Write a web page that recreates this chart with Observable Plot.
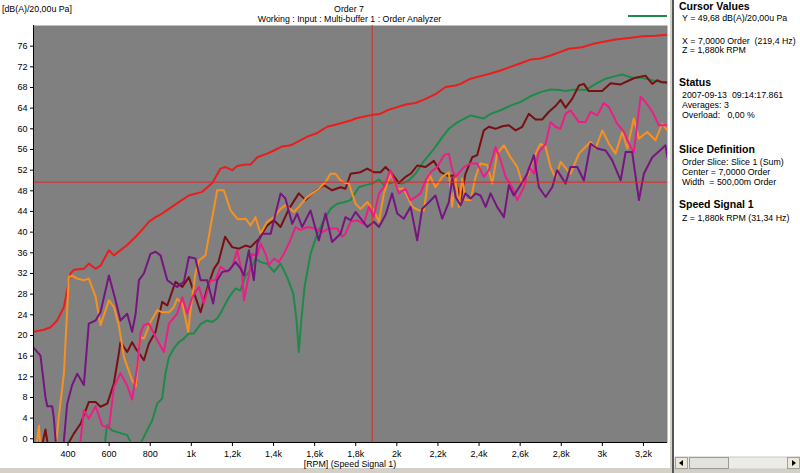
<!DOCTYPE html>
<html><head><meta charset="utf-8">
<script src="https://cdn.jsdelivr.net/npm/d3@7"></script>
<script src="https://cdn.jsdelivr.net/npm/@observablehq/plot@0.6"></script>
<style>
html,body{margin:0;padding:0;background:#fff;}
#wrap{position:relative;width:800px;height:473px;overflow:hidden;background:#fff;font-family:"Liberation Sans",Arial,sans-serif;}
#wrap svg{position:absolute;left:0;top:0;}
#wrap text{white-space:pre;}
</style></head><body><div id="wrap"></div>
<script>
// ---- data ----
const yTicks = [0,4,8,12,16,20,24,28,32,36,40,44,48,52,56,60,64,68,72,76];
const xTicks = [400,600,800,1000,1200,1400,1600,1800,2000,2200,2400,2600,2800,3000,3200];
const xTickLabels = ["400","600","800","1k","1,2k","1,4k","1,6k","1,8k","2k","2,2k","2,4k","2,6k","2,8k","3k","3,2k"];
const cursorRpm = 1880;
const cursorDb = 49.68;

const redRpm = [233,282,315,347,380,412,428,477,501,534,558,599,623,688,729,761,793,826,858,891,939,988,1053,1102,1142,1166,1199,1223,1264,1288,1321,1369,1402,1442,1483,1523,1564,1613,1661,1710,1775,1799,1831,1880,1913,1961,1994,2042,2091,2140,2188,2237,2286,2310,2359,2407,2456,2505,2553,2602,2650,2699,2748,2796,2837,2902,2951,3000,3064,3129,3194,3259,3316];
const redDb = [20.7,21.1,21.6,22.9,25.5,32.0,32.7,32.9,33.9,32.9,33.5,36.5,35.5,37.5,39.1,40.5,42.0,42.9,43.6,44.5,45.8,47.1,47.8,49.5,52.3,52.6,52.0,52.8,53.1,53.1,54.5,55.2,55.8,56.6,56.8,57.6,58.5,59.2,60.4,60.9,61.6,62.0,62.3,62.7,62.8,63.7,64.1,64.7,65.0,65.8,66.7,68.1,68.4,68.7,69.7,70.2,70.7,71.3,72.0,72.7,73.4,73.6,74.2,74.9,75.5,75.8,76.4,76.8,77.3,77.6,77.9,78.0,78.2];

const greenRpm = [560,578,590,615,655,688,712,735,753,777,810,834,858,874,891,915,939,964,988,1012,1045,1077,1102,1126,1150,1183,1215,1239,1264,1288,1312,1337,1369,1402,1434,1466,1496,1512,1523,1535,1551,1580,1613,1645,1677,1710,1742,1775,1815,1848,1880,1913,1937,1961,1994,2026,2058,2091,2123,2156,2188,2221,2253,2286,2310,2359,2391,2423,2456,2505,2553,2602,2650,2699,2748,2796,2821,2870,2918,2967,3016,3064,3097,3145,3194,3243,3291,3316];
const greenDb = [-3,-1.3,2.6,1.6,1.1,0.7,-1.3,-3,-0.9,1.0,3.6,6.8,7.8,12.6,15.8,17.5,18.7,19.4,20.4,20.4,22.2,22.9,22.6,23.3,24.9,27.4,29.1,28.7,31.6,32.6,34.9,34.2,33.9,32.3,33.9,31.3,28.1,22.9,16.8,22.9,29.4,35.8,39.7,42.3,44.5,45.5,45.8,46.2,48.7,49.1,49.4,50.2,49.1,49.4,49.7,49.4,50.0,51.3,53.3,54.9,56.5,58.4,60.0,61.0,61.6,62.6,62.3,62.0,62.9,63.6,64.5,65.2,66.3,67.1,67.6,67.5,67.3,67.6,67.5,68.7,69.7,70.2,70.5,69.9,69.9,69.4,69.0,68.8];

const maroonRpm = [270,290,305,380,396,428,461,501,534,558,591,623,647,655,688,712,729,769,793,826,858,883,923,956,988,1012,1045,1077,1110,1132,1164,1199,1232,1264,1288,1329,1369,1402,1434,1475,1523,1556,1596,1645,1685,1726,1750,1775,1823,1856,1888,1921,1945,1977,2010,2042,2067,2099,2140,2180,2213,2253,2280,2310,2334,2367,2391,2423,2448,2480,2513,2545,2578,2610,2642,2675,2707,2740,2772,2797,2821,2853,2886,2910,2934,2999,3040,3089,3137,3162,3210,3243,3267,3291,3316];
const maroonDb = [-2,1.8,-2,-3,-1.3,1.0,2.9,7.1,7.1,6.2,6.8,10.7,16.5,18.7,16.8,18.7,17.5,15.2,18.4,20.7,26.5,25.8,30.4,29.4,31.3,28.4,24.5,29.1,32.9,34.2,39.1,37.1,36.8,37.4,37.1,38.7,41.3,42.3,41.0,44.5,47.5,46.2,47.8,49.1,48.1,48.7,48.4,51.3,51.6,52.3,51.6,51.6,52.6,51.3,49.5,50.7,51.3,52.9,52.6,53.8,51.6,50.8,51.0,46.2,51.3,54.5,54.9,59.7,60.4,60.0,60.5,60.7,59.7,60.4,62.9,61.8,61.8,63.3,64.4,65.6,64.1,65.8,68.4,68.7,67.3,67.3,68.8,68.6,69.5,69.9,70.3,68.7,69.4,69.0,69.0];

const pinkRpm = [440,458,477,501,534,566,599,623,655,688,712,737,753,769,793,826,866,891,931,956,980,1004,1037,1061,1094,1118,1142,1175,1199,1223,1247,1256,1280,1296,1321,1337,1361,1377,1402,1426,1450,1475,1507,1531,1564,1604,1637,1669,1710,1734,1750,1775,1807,1839,1864,1888,1913,1937,1969,2010,2042,2067,2091,2115,2140,2164,2197,2229,2253,2270,2286,2326,2359,2391,2423,2448,2480,2505,2529,2561,2586,2618,2642,2667,2691,2724,2748,2772,2796,2821,2845,2886,2918,2943,2975,3007,3032,3072,3105,3137,3153,3186,3210,3243,3275,3316];
const pinkDb = [-3,-1.3,5.5,3.9,6.3,2.6,2.0,10.0,12.7,10.3,7.6,14.0,20.5,22.0,22.3,19.7,16.8,22.3,24.2,27.4,24.2,27.4,29.4,26.2,30.7,30.7,33.3,32.3,33.3,36.5,32.0,26.8,31.6,35.8,35.5,37.8,35.8,33.6,34.9,34.2,35.8,37.8,41.0,40.4,41.0,40.7,40.0,40.7,40.7,39.1,39.7,42.0,42.3,41.6,44.9,43.0,47.5,48.7,52.0,47.5,48.4,46.2,46.8,47.5,50.0,51.6,52.6,54.9,55.2,52.0,50.7,52.6,53.3,53.3,50.7,52.0,56.5,53.9,50.7,48.7,46.2,48.7,52.6,51.3,55.5,57.1,61.3,60.4,60.0,62.9,63.6,61.3,61.3,63.3,62.6,65.0,64.2,61.0,59.4,56.5,55.5,66.2,65.2,63.3,60.7,60.7];

const orangeRpm = [245,258,266,340,355,380,404,420,445,477,501,534,558,599,623,647,672,712,730,750,769,801,834,858,891,915,931,956,985,996,1020,1037,1069,1093,1126,1158,1191,1223,1239,1264,1288,1312,1337,1369,1402,1434,1458,1499,1523,1556,1588,1620,1653,1677,1702,1726,1750,1767,1799,1823,1856,1888,1913,1937,1969,2002,2034,2075,2107,2132,2156,2188,2221,2253,2269,2286,2302,2318,2334,2359,2383,2407,2440,2464,2488,2521,2553,2586,2610,2634,2667,2699,2724,2748,2772,2797,2845,2886,2918,2943,2967,3000,3032,3064,3097,3121,3153,3178,3218,3259,3291,3316];
const orangeDb = [-2,2.5,-1.5,-2,4.2,12.6,31.3,31.6,31.0,30.7,31.0,27.5,22.0,26.8,25.5,22.0,15.8,11.3,10.2,19.7,19.4,22.6,24.9,24.5,24.5,25.5,27.1,26.2,20.7,24.9,32.0,34.5,35.5,41.0,48.1,48.1,44.2,42.6,42.5,42.6,41.3,42.9,39.7,42.0,42.9,44.5,45.2,43.9,44.9,46.5,47.5,48.4,49.7,51.3,51.3,50.0,49.5,49.4,45.5,44.5,45.8,44.2,42.0,47.5,51.3,48.4,48.4,44.9,44.2,44.2,51.3,48.7,50.7,51.6,44.9,50.7,44.9,50.4,46.2,46.2,50.7,53.3,53.0,49.4,55.2,56.8,54.5,52.6,49.4,50.7,54.5,57.1,56.5,52.6,50.5,53.6,51.3,55.2,56.5,57.5,56.2,59.7,57.1,55.2,59.4,56.2,62.0,58.1,59.4,57.8,61.0,59.7];

const purpleRpm = [233,266,290,299,323,331,345,372,380,396,420,445,477,501,534,558,599,631,655,688,712,729,745,769,801,826,850,883,907,931,964,988,1020,1045,1077,1106,1126,1150,1183,1215,1239,1256,1280,1304,1321,1345,1386,1434,1458,1491,1515,1539,1580,1620,1653,1685,1726,1750,1775,1799,1831,1856,1888,1913,1945,1977,2002,2034,2067,2099,2123,2156,2188,2221,2253,2270,2286,2310,2334,2359,2383,2407,2432,2456,2488,2521,2545,2569,2602,2634,2667,2691,2724,2756,2780,2821,2845,2878,2910,2943,2975,3016,3048,3089,3113,3145,3178,3202,3243,3291,3307,3316];
const purpleDb = [17.6,16.1,8.1,6.3,6.3,4.0,-3,-3,-0.3,6.8,10.4,12.6,10.4,22.3,22.9,24.5,31.6,26.8,22.9,24.2,20.7,24.2,30.7,32.0,35.8,36.2,35.5,30.7,30.0,29.4,30.4,35.2,34.9,30.7,30.7,26.2,30.7,32.3,32.6,34.2,33.0,31.6,36.5,30.7,37.8,39.7,39.7,47.5,46.5,41.6,43.6,41.0,44.2,38.4,43.6,38.1,39.7,42.9,42.3,43.9,42.3,41.0,42.0,41.0,43.3,47.5,43.6,42.6,44.9,38.4,44.5,45.8,47.1,42.6,45.8,50.5,46.8,45.2,47.5,46.5,47.5,47.1,44.9,47.5,44.9,42.9,49.1,47.1,49.1,51.3,54.9,48.7,46.8,48.7,52.0,49.4,52.6,52.6,50.0,57.1,56.2,55.8,53.9,50.0,55.5,55.5,46.2,51.3,54.5,56.2,56.8,54.5];

const seriesNames = ["red","green","maroon","orange","pink","purple"];
const seriesColors = ["#ec1c1c","#1e8a4a","#7a0f12","#f7901e","#ec1e86","#771480"];
const seriesRpm = [redRpm, greenRpm, maroonRpm, orangeRpm, pinkRpm, purpleRpm];
const seriesDb = [redDb, greenDb, maroonDb, orangeDb, pinkDb, purpleDb];

// ---- chart ----
const xDomain = [232, 3317];
const yDomain = [-0.72, 80];
const lineMarks = seriesNames.map((name, k) => {
  const rows = seriesRpm[k].map((r, i) => ({rpm: r, db: seriesDb[k][i]}));
  return Plot.line(rows, {x: "rpm", y: "db", stroke: seriesColors[k], strokeWidth: 2, clip: true, curve: "linear"});
});

const chart = Plot.plot({
  width: 668, height: 473,
  marginLeft: 33, marginRight: 1, marginTop: 25, marginBottom: 31,
  style: {background: "transparent", fontFamily: "'Liberation Sans', Arial, sans-serif", fontSize: "9px", color: "#000", overflow: "visible"},
  x: {domain: xDomain, ticks: xTicks, tickFormat: d => xTickLabels[xTicks.indexOf(d)], tickSize: 4, tickPadding: 4, label: null},
  y: {domain: yDomain, ticks: yTicks, tickSize: 3, tickPadding: 3, label: null},
  marks: [
    Plot.frame({fill: "#808080", stroke: "none"}),
    ...lineMarks,
    Plot.ruleX([cursorRpm], {stroke: "#e0262a", strokeWidth: 1}),
    Plot.ruleY([cursorDb], {stroke: "#e0262a", strokeWidth: 1}),
    Plot.ruleX([xDomain[0]], {stroke: "#000", strokeWidth: 1}),
    Plot.ruleY([yDomain[0]], {stroke: "#000", strokeWidth: 1})
  ]
});
const wrap = document.getElementById("wrap");
wrap.appendChild(chart);

// ---- overlay: titles, panel, chrome ----
const ns = "http://www.w3.org/2000/svg";
const ov = document.createElementNS(ns, "svg");
ov.setAttribute("width", 800); ov.setAttribute("height", 473);
ov.style.fontFamily = "'Liberation Sans', Arial, sans-serif";
function el(tag, attrs, text) {
  const e = document.createElementNS(ns, tag);
  for (const k in attrs) e.setAttribute(k, attrs[k]);
  if (text != null) { e.textContent = text; e.style.whiteSpace = "pre"; }
  ov.appendChild(e);
  return e;
}
function txt(x, y, s, opts = {}) {
  return el("text", {x, y, "font-size": opts.size || 8.8, "font-weight": opts.bold ? "bold" : "normal",
    "text-anchor": opts.anchor || "start", fill: "#000"}, s);
}
// chrome
el("rect", {x: 0, y: 468, width: 800, height: 5, fill: "#d4d0c8"});
el("rect", {x: 670, y: 0, width: 2, height: 473, fill: "#d4d0c8"});
el("rect", {x: 672, y: 0, width: 2, height: 473, fill: "#555"});
// scrollbar
el("rect", {x: 675, y: 457, width: 125, height: 12, fill: "#ecebe8", stroke: "#c8c8c8"});
el("rect", {x: 675.5, y: 457.5, width: 12, height: 11, fill: "#ece9d8", stroke: "#a0a0a0"});
el("path", {d: "M679 463 L683 460 L683 466 Z", fill: "#000"});
el("rect", {x: 689.5, y: 457.5, width: 39, height: 11, fill: "#e4e2dc", stroke: "#9a9a9a"});
el("rect", {x: 787.5, y: 457.5, width: 12, height: 11, fill: "#ece9d8", stroke: "#a0a0a0"});
el("path", {d: "M796 463 L792 460 L792 466 Z", fill: "#000"});
// titles
txt(2, 12, "[dB(A)/20,00u Pa]");
txt(349, 12, "Order 7", {anchor: "middle"});
txt(349.5, 21.5, "Working : Input : Multi-buffer 1 : Order Analyzer", {anchor: "middle"});
el("line", {x1: 628, x2: 667, y1: 16, y2: 16, stroke: "#1e8a4a", "stroke-width": 2});
txt(350, 467, "[RPM] (Speed Signal 1)", {anchor: "middle"});
// right panel
txt(679, 10, "Cursor Values", {bold: true, size: 10.5});
txt(682, 21, "Y = 49,68 dB(A)/20,00u Pa");
txt(682, 44, "X = 7,0000 Order  (219,4 Hz)");
txt(682, 53, "Z = 1,880k RPM");
txt(679, 86, "Status", {bold: true, size: 10.5});
txt(682, 97.5, "2007-09-13  09:14:17.861");
txt(682, 108, "Averages: 3");
txt(682, 118, "Overload:   0,00 %");
txt(679, 152.5, "Slice Definition", {bold: true, size: 10.5});
txt(682, 164.5, "Order Slice: Slice 1 (Sum)");
txt(682, 174.5, "Center = 7,0000 Order");
txt(682, 184.5, "Width  = 500,00m Order");
txt(679, 208, "Speed Signal 1", {bold: true, size: 10.5});
txt(682, 220.5, "Z = 1,880k RPM (31,34 Hz)");
wrap.appendChild(ov);
</script></body></html>
